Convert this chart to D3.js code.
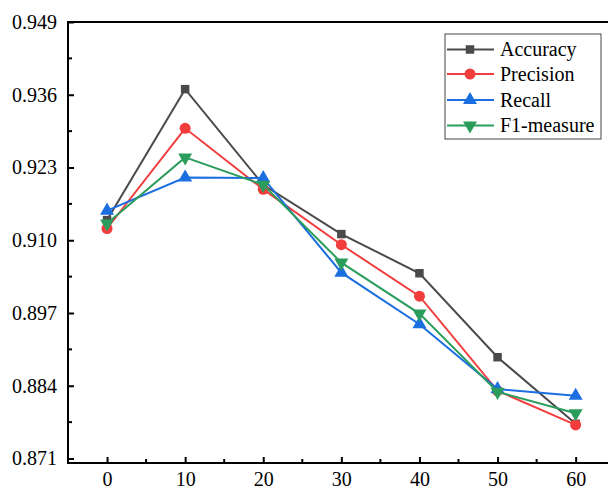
<!DOCTYPE html>
<html>
<head>
<meta charset="utf-8">
<script src="https://cdn.jsdelivr.net/npm/d3@7"></script>
</head>
<body style="margin:0; background:#fff">
<div id="chart"></div>
<script>
// values
const xs = [0, 10, 20, 30, 40, 50, 60];
const accuracy  = [0.9136, 0.9370, 0.9199, 0.9111, 0.9041, 0.8891, 0.8772];
const precision = [0.9121, 0.9300, 0.9191, 0.9092, 0.9000, 0.8831, 0.8770];
const recall    = [0.9153, 0.9212, 0.9211, 0.9042, 0.8950, 0.8834, 0.8822];
const f1        = [0.9130, 0.9248, 0.9199, 0.9060, 0.8969, 0.8829, 0.8791];
const yTicks = [0.871, 0.884, 0.897, 0.910, 0.923, 0.936, 0.949];
const xTicks = [0, 10, 20, 30, 40, 50, 60];

const series = [
  {name: "Accuracy",   values: accuracy,  color: "#4a4a4a", symbol: "square"},
  {name: "Precision",  values: precision, color: "#f23d3d", symbol: "circle"},
  {name: "Recall",     values: recall,    color: "#1b6ee0", symbol: "up"},
  {name: "F1-measure", values: f1,        color: "#2a9d5c", symbol: "down"}
];

const FONT = '"Liberation Serif"';
const width = 608, height = 489;

const x = d3.scaleLinear().domain([-5, 65]).range([68, 68 + 70 * 7.81]);
const y = d3.scaleLinear().domain([0.871, 0.949]).range([458.5, 22]);
const yBottom = 463;

const svg = d3.select("#chart").append("svg")
    .attr("width", width)
    .attr("height", height)
    .style("display", "block");

// frame (right edge runs past the picture)
svg.append("rect")
    .attr("x", x(-5)).attr("y", y(0.949))
    .attr("width", x(65) - x(-5)).attr("height", yBottom - y(0.949))
    .attr("fill", "none").attr("stroke", "#000").attr("stroke-width", 2);

// y axis, ticks pointing inward
const yAxis = d3.axisRight(y).tickValues(yTicks).tickSize(6).tickFormat(d3.format(".3f"));
svg.append("g")
    .attr("transform", `translate(${x(-5)},0)`)
    .call(yAxis)
    .attr("font-family", FONT)
    .call(g => g.select(".domain").remove())
    .call(g => g.selectAll(".tick line").attr("stroke-width", 2))
    .call(g => g.selectAll(".tick text")
        .attr("x", -11).attr("text-anchor", "end").attr("dy", "0.32em")
        .attr("font-family", FONT)
        .attr("font-size", 20).attr("fill", "#000"));

// y minor ticks
const yMinor = d3.range(0, yTicks.length - 1).map(i => (yTicks[i] + yTicks[i + 1]) / 2);
svg.append("g").selectAll("line").data(yMinor).join("line")
    .attr("x1", x(-5)).attr("x2", x(-5) + 4)
    .attr("y1", d => y(d)).attr("y2", d => y(d))
    .attr("stroke", "#000").attr("stroke-width", 2);

// x axis, ticks pointing inward
const xAxis = d3.axisTop(x).tickValues(xTicks).tickSize(6);
svg.append("g")
    .attr("transform", `translate(0,${yBottom})`)
    .call(xAxis)
    .attr("font-family", FONT)
    .call(g => g.select(".domain").remove())
    .call(g => g.selectAll(".tick line").attr("stroke-width", 2))
    .call(g => g.selectAll(".tick text")
        .attr("y", 23).attr("dy", 0)
        .attr("font-family", FONT)
        .attr("font-size", 20).attr("fill", "#000"));

const xMinor = d3.range(-5, 66, 10);
svg.append("g").selectAll("line").data(xMinor).join("line")
    .attr("x1", d => x(d)).attr("x2", d => x(d))
    .attr("y1", yBottom).attr("y2", yBottom - 4)
    .attr("stroke", "#000").attr("stroke-width", 2);

const symbols = {
  square: d3.symbol().type(d3.symbolSquare).size(72),
  circle: d3.symbol().type(d3.symbolCircle).size(95),
  up: d3.symbol().type(d3.symbolTriangle).size(85),
  down: d3.symbol().type(d3.symbolTriangle).size(85)
};

function drawMarker(g, s, cx, cy) {
  g.append("path")
      .attr("d", symbols[s.symbol]())
      .attr("transform", `translate(${cx},${cy})` + (s.symbol === "down" ? " rotate(180)" : ""))
      .attr("fill", s.color);
}

const line = d3.line().x((d, i) => x(xs[i])).y(d => y(d));

series.forEach(s => {
  const g = svg.append("g");
  g.append("path")
      .attr("d", line(s.values))
      .attr("fill", "none")
      .attr("stroke", s.color)
      .attr("stroke-width", 2);
  s.values.forEach((v, i) => drawMarker(g, s, x(xs[i]), y(v)));
});

// legend
const lg = svg.append("g");
lg.append("rect")
    .attr("x", 445).attr("y", 34).attr("width", 156).attr("height", 105)
    .attr("fill", "#fff").attr("stroke", "#444").attr("stroke-width", 1);
const rowY = [49.5, 74, 100, 125.5];
series.forEach((s, i) => {
  const ly = rowY[i];
  lg.append("line")
      .attr("x1", 447).attr("x2", 494).attr("y1", ly).attr("y2", ly)
      .attr("stroke", s.color).attr("stroke-width", 2);
  drawMarker(lg, s, 470, ly);
  lg.append("text")
      .attr("x", 500).attr("y", ly).attr("dy", "0.33em")
      .attr("font-family", FONT)
      .attr("font-size", 20).attr("fill", "#000")
      .text(s.name);
});
</script>
</body>
</html>
